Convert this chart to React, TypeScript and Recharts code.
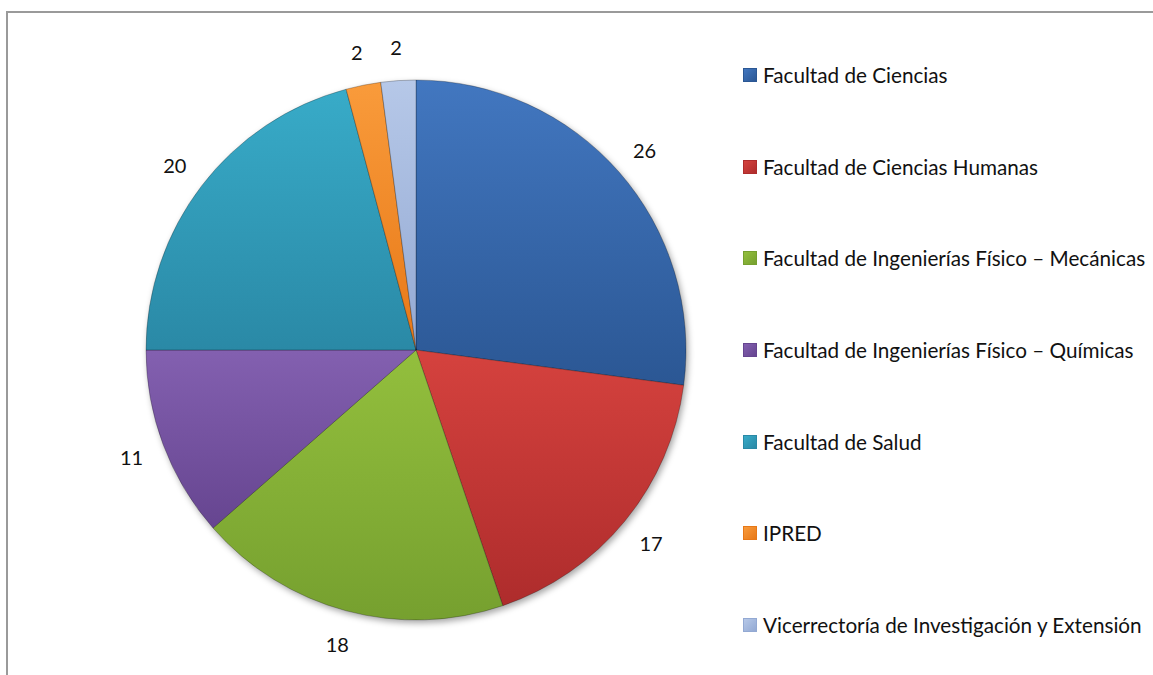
import { PieChart, Pie, Cell, Legend } from "recharts";

// Participation by unit (number of groups)
const units = [
    "Facultad de Ciencias",
    "Facultad de Ciencias Humanas",
    "Facultad de Ingenierías Físico – Mecánicas",
    "Facultad de Ingenierías Físico – Químicas",
    "Facultad de Salud",
    "IPRED",
    "Vicerrectoría de Investigación y Extensión",
];
const counts = [26, 17, 18, 11, 20, 2, 2];

// light / dark pair per slice, office-2007 look
const lightColors = ["#4277C0", "#D5423E", "#93BF3D", "#8360B0", "#38ABC8", "#F99B3B", "#B6C8E8"];
const darkColors = ["#2B5794", "#AE2C2C", "#76A02F", "#664590", "#2A89A6", "#E77817", "#93A9D3"];

const pieData = units.map((name, i) => ({ name, value: counts[i] }));

const FONT = "Lato, 'Open Sans', sans-serif";
const RADIAN = Math.PI / 180;

const renderLabel = ({ cx, cy, midAngle, outerRadius, value }: any) => {
    const r = outerRadius + 34;
    const x = cx + r * Math.cos(-midAngle * RADIAN);
    const y = cy + r * Math.sin(-midAngle * RADIAN);
    return (
        <text
            x={x}
            y={y}
            fill="#111"
            textAnchor="middle"
            dominantBaseline="central"
            style={{ fontFamily: FONT, fontSize: 20 }}
        >
            {value}
        </text>
    );
};

const renderLegend = ({ payload }: any) => (
    <div style={{ fontFamily: FONT, fontSize: 20.7, color: "#111" }}>
        {(payload || []).map((entry: any, i: number) => (
            <div
                key={entry.value}
                style={{ height: 91.7, display: "flex", alignItems: "center", whiteSpace: "nowrap" }}
            >
                <span
                    style={{
                        display: "inline-block",
                        width: 12,
                        height: 12,
                        marginRight: 6,
                        background: `linear-gradient(135deg, ${lightColors[i]}, ${darkColors[i]})`,
                        border: `1px solid ${darkColors[i]}`,
                    }}
                />
                <span>{entry.value}</span>
            </div>
        ))}
    </div>
);

export default function App() {
    return (
        <div
            style={{
                position: "absolute",
                left: 0,
                top: 0,
                width: 1153,
                height: 675,
                overflow: "hidden",
                background: "#fff",
            }}
        >
            <style>{`.recharts-pie { filter: drop-shadow(2px 3px 3px rgba(0,0,0,0.35)); }`}</style>
            <div
                style={{
                    position: "absolute",
                    left: 6,
                    top: 11,
                    width: 1200,
                    height: 700,
                    border: "2px solid #9a9a9a",
                }}
            />
            <div style={{ position: "absolute", left: 0, top: 0 }}>
                <PieChart width={1153} height={675} margin={{ top: 0, right: 0, bottom: 0, left: 0 }}>
                    <defs>
                        {units.map((_, i) => (
                            <linearGradient key={i} id={`slice${i}`} x1="0" y1="0" x2="0" y2="1">
                                <stop offset="0%" stopColor={lightColors[i]} />
                                <stop offset="100%" stopColor={darkColors[i]} />
                            </linearGradient>
                        ))}
                    </defs>
                    <Pie
                        data={pieData}
                        dataKey="value"
                        nameKey="name"
                        cx={416}
                        cy={350}
                        outerRadius={270}
                        startAngle={90}
                        endAngle={-270}
                        stroke="rgba(0,0,0,0.25)"
                        strokeWidth={1}
                        label={renderLabel}
                        labelLine={false}
                        isAnimationActive={false}
                    >
                        {pieData.map((entry, i) => (
                            <Cell key={entry.name} fill={`url(#slice${i})`} />
                        ))}
                    </Pie>
                    <Legend
                        layout="vertical"
                        align="right"
                        verticalAlign="top"
                        content={renderLegend}
                        wrapperStyle={{ left: 743, top: 29, width: 410 }}
                    />
                </PieChart>
            </div>
        </div>
    );
}
